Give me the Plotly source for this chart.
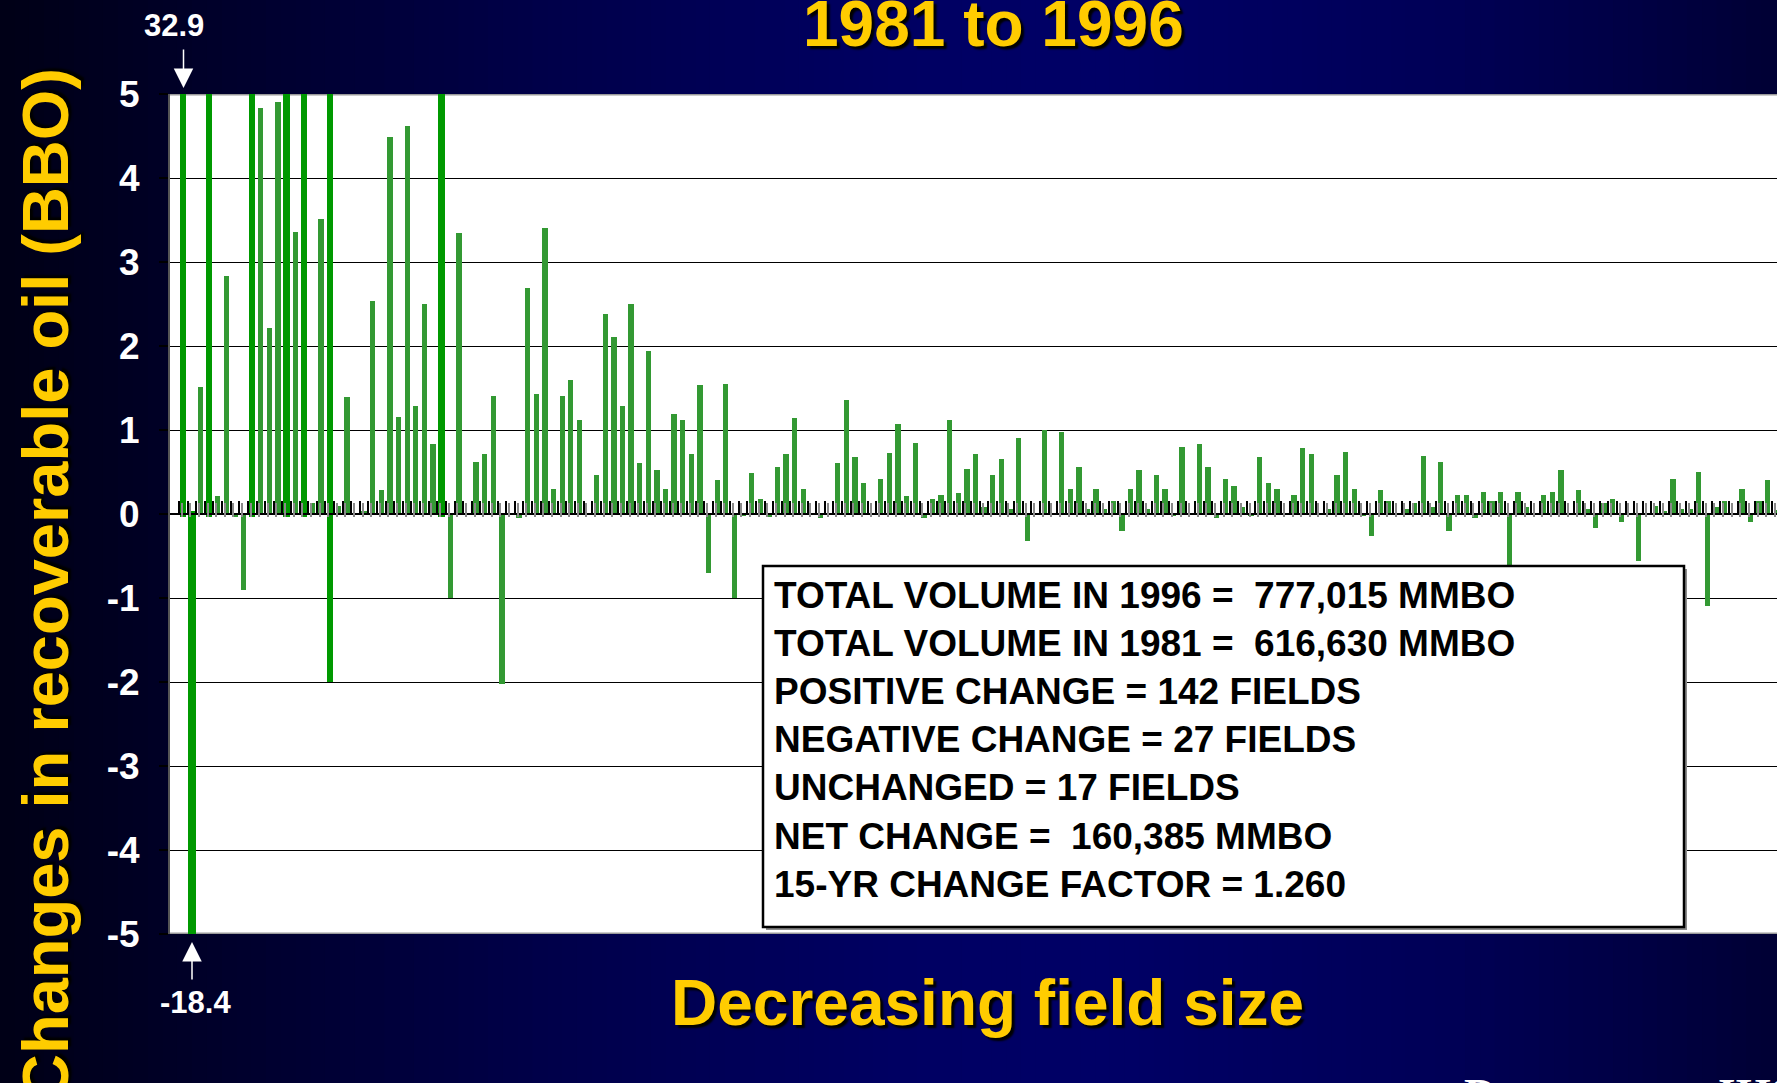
import plotly.graph_objects as go

# ---------------------------------------------------------------------------
# Change in recoverable oil per field, 1981 -> 1996 (BBO), fields ordered by
# decreasing size.  Values beyond +/-5 run off the scale.
# ---------------------------------------------------------------------------
field_no = list(range(1, 187))
change_bbo = [
    32.9, -18.4, 1.51, 9.6, 0.21, 2.83, -0.03, -0.90, 6.4, 4.83,
    2.21, 4.90, 5.9, 3.36, 7.8, 0.13, 3.51, 5.6, 0.10, 1.39,
    0.0, 0.03, 2.54, 0.28, 4.49, 1.16, 4.62, 1.29, 2.50, 0.83,
    6.1, -1.00, 3.34, 0.0, 0.62, 0.71, 1.41, -2.02, 0.0, -0.05,
    2.69, 1.43, 3.41, 0.30, 1.41, 1.60, 1.12, 0.0, 0.47, 2.38,
    2.11, 1.29, 2.50, 0.61, 1.94, 0.52, 0.30, 1.19, 1.12, 0.71,
    1.53, -0.70, 0.40, 1.55, -1.00, -0.02, 0.49, 0.18, -0.03, 0.56,
    0.71, 1.14, 0.30, 0.0, -0.05, 0.0, 0.61, 1.36, 0.68, 0.37,
    0.0, 0.42, 0.73, 1.07, 0.21, 0.85, -0.05, 0.18, 0.23, 1.12,
    0.25, 0.54, 0.71, 0.08, 0.47, 0.66, 0.06, 0.90, -0.32, 0.0,
    1.00, 0.0, 0.98, 0.30, 0.56, 0.06, 0.30, 0.06, 0.15, -0.20,
    0.30, 0.52, 0.06, 0.47, 0.30, -0.02, 0.80, 0.0, 0.83, 0.56,
    -0.05, 0.42, 0.33, 0.08, -0.02, 0.68, 0.37, 0.30, 0.0, 0.23,
    0.78, 0.71, 0.0, 0.06, 0.47, 0.74, 0.30, -0.02, -0.26, 0.28,
    0.15, 0.0, 0.06, 0.13, 0.69, 0.08, 0.62, -0.20, 0.23, 0.23,
    -0.05, 0.26, 0.15, 0.26, -0.75, 0.26, 0.08, 0.0, 0.23, 0.26,
    0.52, 0.0, 0.28, 0.06, -0.17, 0.13, 0.18, -0.10, 0.0, -0.56,
    0.0, 0.10, 0.03, 0.42, 0.06, 0.06, 0.50, -1.10, 0.08, 0.15,
    0.0, 0.30, -0.10, 0.15, 0.40, 0.05,
]

# Fields whose change runs past the axis limits, and the lower end of the
# heavy marker line drawn over each of them.
offscale_fields = [1, 2, 4, 9, 13, 15, 18, 31]
marker_low_end = [-0.03, 0.03, -0.03, -0.03, -0.03, -0.03, -2.0, -0.03]

y_tick_values = [-5, -4, -3, -2, -1, 0, 1, 2, 3, 4, 5]
y_tick_labels = ["-5", "-4", "-3", "-2", "-1", "0", "1", "2", "3", "4", "5"]

summary_lines = [
    "TOTAL VOLUME IN 1996 =\u00a0\u00a0777,015 MMBO",
    "TOTAL VOLUME IN 1981 =\u00a0\u00a0616,630 MMBO",
    "POSITIVE CHANGE = 142 FIELDS",
    "NEGATIVE CHANGE = 27 FIELDS",
    "UNCHANGED = 17 FIELDS",
    "NET CHANGE =\u00a0\u00a0160,385 MMBO",
    "15-YR CHANGE FACTOR = 1.260",
]

title_text = "1981 to 1996"
x_title = "Decreasing field size"
y_title = "Changes in recoverable oil (BBO)"
top_callout = "32.9"
bottom_callout = "-18.4"
source_text = "Data source: IHS"

# ---------------------------------------------------------------------------
W, H = 1777, 1083
ML, MR, MT, MB = 170, 0, 94, 149
PW, PH = W - ML - MR, H - MT - MB


def xp(px):
    """page pixel column -> paper fraction"""
    return (px - ML) / PW


def yp(py):
    """page pixel row -> paper fraction"""
    return (H - MB - py) / PH


SANS = "Liberation Sans, Arial, sans-serif"
SERIF = "Liberation Serif, Times New Roman, serif"
GOLD = "#FFCC00"

# background: navy gradient built from thin vertical strips
stops = [(0.0, 22), (0.12, 42), (0.30, 72), (0.50, 98), (0.62, 102),
         (0.80, 88), (0.92, 68), (1.0, 52)]


def blue_at(f):
    for (f0, b0), (f1, b1) in zip(stops[:-1], stops[1:]):
        if f0 <= f <= f1:
            t = (f - f0) / (f1 - f0)
            return b0 + t * (b1 - b0)
    return stops[-1][1]


shapes = []
n_strips = 120
for k in range(n_strips):
    f0 = k / n_strips
    f1 = (k + 1) / n_strips
    b = int(round(blue_at((f0 + f1) / 2)))
    shapes.append(dict(
        type="rect", xref="paper", yref="paper",
        x0=xp(f0 * W) - 0.0005, x1=xp(f1 * W) + 0.0005,
        y0=yp(H), y1=yp(0),
        fillcolor=f"rgb(0,0,{b})", line=dict(width=0), layer="below"))

# white plot area
shapes.append(dict(type="rect", xref="paper", yref="paper", x0=0, x1=1, y0=0, y1=1,
                   fillcolor="white", line=dict(width=0), layer="below"))
# light grey rims along the top and bottom of the plot area
for yv in (5, -5):
    shapes.append(dict(type="line", xref="paper", yref="y", x0=0, x1=1, y0=yv, y1=yv,
                       line=dict(color="#9a9a9a", width=3), layer="below"))

# summary box with a soft drop shadow
bx0, by0, bx1, by1 = 763, 566, 1684, 927
shapes.append(dict(type="rect", xref="paper", yref="paper",
                   x0=xp(bx0 + 3), x1=xp(bx1 + 3), y0=yp(by1 + 3), y1=yp(by0 + 3),
                   fillcolor="#8c8c8c", line=dict(width=0), layer="above"))
shapes.append(dict(type="rect", xref="paper", yref="paper",
                   x0=xp(bx0), x1=xp(bx1), y0=yp(by1), y1=yp(by0),
                   fillcolor="white", line=dict(color="black", width=2.5), layer="above"))

# ---------------------------------------------------------------------------
fig = go.Figure()

fig.add_trace(go.Bar(
    x=field_no, y=change_bbo, width=0.62,
    marker=dict(color="#339933", line=dict(width=0)),
    hoverinfo="x+y", showlegend=False))

off_vals = [change_bbo[f - 1] for f in offscale_fields]
fig.add_trace(go.Bar(
    x=offscale_fields,
    y=[v - lo for v, lo in zip(off_vals, marker_low_end)],
    base=marker_low_end,
    width=[1.0 if v < 0 else 0.74 for v in off_vals],
    marker=dict(color="#009900", line=dict(width=0)),
    hoverinfo="skip", showlegend=False))

# carries the faint grey shadow ticks along the zero line
fig.add_trace(go.Scatter(x=[None], y=[None], xaxis="x2", yaxis="y",
                         mode="markers", showlegend=False, hoverinfo="skip"))

boundaries = [k + 0.5 for k in range(0, 187)]
x_range = [-0.545, 186.08]

fig.update_layout(
    width=W, height=H,
    margin=dict(l=ML, r=MR, t=MT, b=MB, pad=0),
    paper_bgcolor="#000040",
    plot_bgcolor="rgba(0,0,0,0)",
    barmode="overlay",
    bargap=0,
    shapes=shapes,
    xaxis=dict(
        range=x_range, anchor="free", position=0.5,
        tickmode="array", tickvals=boundaries, showticklabels=False,
        ticks="inside", ticklen=12, tickwidth=1.5, tickcolor="black",
        showgrid=False, zeroline=False,
        showline=True, linecolor="black", linewidth=2,
        layer="above traces", fixedrange=True),
    xaxis2=dict(
        range=x_range, overlaying="x", anchor="free", position=0.5 - 3 / PH,
        tickmode="array", tickvals=[b + 0.32 for b in boundaries], showticklabels=False,
        ticks="inside", ticklen=14, tickwidth=1.5, tickcolor="#8a8a8a",
        showgrid=False, zeroline=False, showline=False, fixedrange=True),
    yaxis=dict(
        range=[-5, 5], tickmode="array", tickvals=y_tick_values, ticktext=y_tick_labels,
        tickfont=dict(family=SANS, size=37, color="white", weight="bold"),
        ticks="outside", ticklen=9, tickwidth=1.5, tickcolor="black",
        ticklabelstandoff=12,
        showgrid=True, gridcolor="black", gridwidth=1.3,
        zeroline=True, zerolinecolor="black", zerolinewidth=2,
        showline=True, linecolor="#555555", linewidth=2, fixedrange=True),
)

shadow = "3px 3px 2px #000000"
ann = []
# main heading
ann.append(dict(text=title_text, xref="paper", yref="paper", x=xp(994), y=yp(24),
                xanchor="center", yanchor="middle", showarrow=False,
                font=dict(family=SANS, size=64, color=GOLD, weight="bold", shadow=shadow)))
# category axis caption
ann.append(dict(text=x_title, xref="paper", yref="paper", x=xp(988), y=yp(1003),
                xanchor="center", yanchor="middle", showarrow=False,
                font=dict(family=SANS, size=64, color=GOLD, weight="bold", shadow=shadow)))
# value axis caption
ann.append(dict(text=y_title, xref="paper", yref="paper", x=xp(45), y=yp(585),
                xanchor="center", yanchor="middle", textangle=-90, showarrow=False,
                font=dict(family=SANS, size=65, color=GOLD, weight="bold", shadow=shadow)))
# off-scale callouts
ann.append(dict(text=top_callout, xref="paper", yref="paper", x=xp(174), y=yp(25),
                xanchor="center", yanchor="middle", showarrow=False,
                font=dict(family=SANS, size=31, color="white", weight="bold")))
ann.append(dict(text="", xref="paper", yref="paper", x=xp(183.5), y=yp(88),
                ax=0, ay=-40, showarrow=True, arrowhead=2, arrowsize=2.6,
                arrowwidth=1.5, arrowcolor="white", standoff=0, startstandoff=0))
ann.append(dict(text=bottom_callout, xref="paper", yref="paper", x=xp(195), y=yp(1002),
                xanchor="center", yanchor="middle", showarrow=False,
                font=dict(family=SANS, size=31, color="white", weight="bold")))
ann.append(dict(text="", xref="paper", yref="paper", x=xp(192), y=yp(942),
                ax=0, ay=39, showarrow=True, arrowhead=2, arrowsize=2.6,
                arrowwidth=1.5, arrowcolor="white", standoff=0, startstandoff=0))
# summary statistics
ann.append(dict(text="<br>".join(summary_lines), xref="paper", yref="paper",
                x=xp(772), y=yp(740), xanchor="left", yanchor="middle", align="left",
                showarrow=False,
                font=dict(family=SANS, size=37, color="black", weight="bold")))
# source line along the bottom edge
ann.append(dict(text=source_text, xref="paper", yref="paper", x=xp(1462), y=yp(1067),
                xanchor="left", yanchor="top", showarrow=False,
                font=dict(family=SERIF, size=45, color="white", weight="bold")))

fig.update_layout(annotations=ann)

fig.write_html("out.html")
